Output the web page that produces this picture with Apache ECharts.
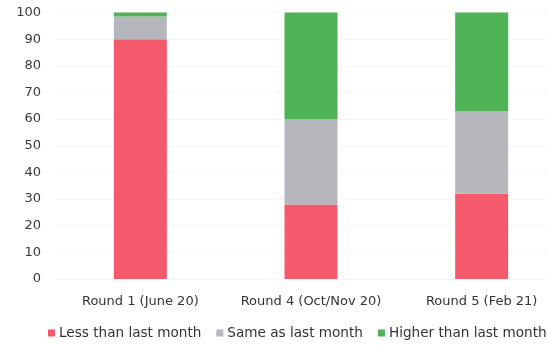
<!DOCTYPE html>
<html>
<head>
<meta charset="utf-8">
<script src="https://cdn.jsdelivr.net/npm/echarts@6/dist/echarts.min.js"></script>
<style>
  html, body { margin: 0; padding: 0; background: #ffffff; }
  #chart { width: 548px; height: 345px; }
</style>
</head>
<body>
<div id="chart"></div>
<script>
// Survey rounds and share of respondents (%) by comparison with last month
const categories = ['Round 1 (June 20)', 'Round 4 (Oct/Nov 20)', 'Round 5 (Feb 21)'];
const lessValues = [90, 28, 32];
const sameValues = [8.5, 32, 31];
const higherValues = [1.5, 40, 37];
const seriesNames = ['Less than last month', 'Same as last month', 'Higher than last month'];
const seriesColors = ['#f45a6b', '#b6b7bd', '#4fb254'];

const chart = echarts.init(document.getElementById('chart'), null, { renderer: 'canvas' });

const fontFamily = '"DejaVu Sans", "Open Sans", sans-serif';

chart.setOption({
  animation: false,
  textStyle: { fontFamily: fontFamily },
  // plot area runs a little past the right edge of the canvas
  grid: { left: 55, right: -19, top: 12.5, bottom: 66, outerBoundsMode: 'none', containLabel: false },
  legend: {
    left: 48,
    top: 326,
    width: 530,
    padding: 0,
    itemWidth: 7,
    itemHeight: 7,
    itemGap: 15,
    icon: 'rect',
    textStyle: { fontFamily: fontFamily, fontSize: 13.6, color: '#333333', padding: [0, 0, 0, -1] },
    data: seriesNames
  },
  xAxis: {
    type: 'category',
    data: categories,
    axisLine: { show: false },
    axisTick: { show: false },
    axisLabel: { fontSize: 13, color: '#333333', margin: 16, interval: 0, fontFamily: fontFamily }
  },
  yAxis: {
    type: 'value',
    min: 0,
    max: 100,
    interval: 10,
    axisLine: { show: false },
    axisTick: { show: false },
    splitLine: { show: true, lineStyle: { color: '#f7f7f7', width: 1 } },
    axisLabel: { fontSize: 13, color: '#3a3a3a', margin: 14, fontFamily: fontFamily }
  },
  series: [
    { name: seriesNames[0], type: 'bar', stack: 'total', data: lessValues, barWidth: 53, itemStyle: { color: seriesColors[0] } },
    { name: seriesNames[1], type: 'bar', stack: 'total', data: sameValues, barWidth: 53, itemStyle: { color: seriesColors[1] } },
    { name: seriesNames[2], type: 'bar', stack: 'total', data: higherValues, barWidth: 53, itemStyle: { color: seriesColors[2] } }
  ]
});
</script>
</body>
</html>
